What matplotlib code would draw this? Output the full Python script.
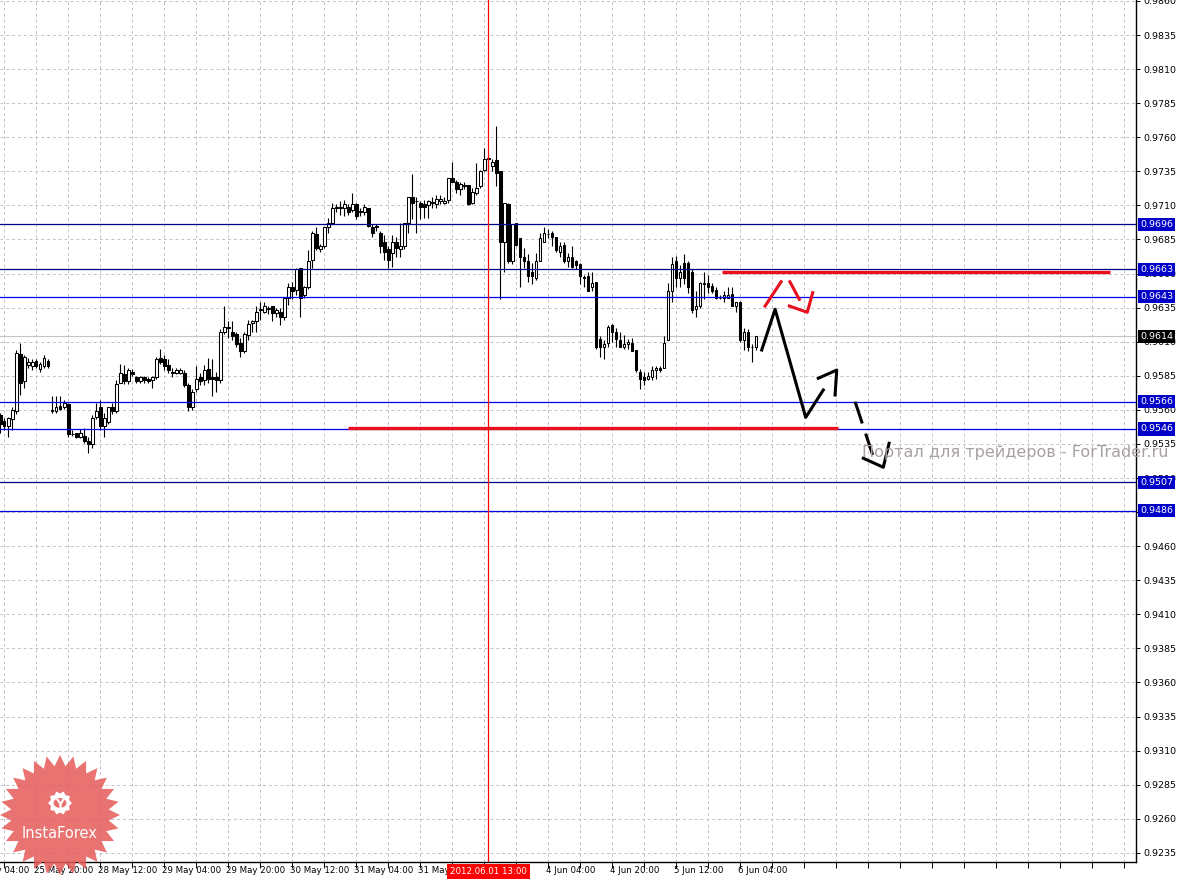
import matplotlib
matplotlib.use("Agg")
from matplotlib import pyplot as plt
from matplotlib.transforms import blended_transform_factory
from matplotlib.patches import Polygon, Circle
import numpy as np

# H1 bars, index 0 = 25 May 11:00 (weekend gaps removed)
opens = [0.9556, 0.9552, 0.9548, 0.9553, 0.9559, 0.9601, 0.9581, 0.9593, 0.9592, 0.9596,
         0.9590, 0.9592, 0.9596, 0.9559, 0.9559, 0.9563, 0.9562, 0.9564, 0.9542, 0.9543,
         0.9540, 0.9541, 0.9537, 0.9535, 0.9555, 0.9562, 0.9548, 0.9551, 0.9562, 0.9559,
         0.9580, 0.9586, 0.9581, 0.9588, 0.9584, 0.9581, 0.9584, 0.9583, 0.9582, 0.9584,
         0.9598, 0.9597, 0.9593, 0.9587, 0.9587, 0.9587, 0.9587, 0.9578, 0.9562, 0.9575,
         0.9584, 0.9582, 0.9590, 0.9584, 0.9584, 0.9582, 0.9617, 0.9621, 0.9617, 0.9616,
         0.9609, 0.9603, 0.9615, 0.9624, 0.9625, 0.9633, 0.9632, 0.9634, 0.9636, 0.9631,
         0.9632, 0.9628, 0.9642, 0.9650, 0.9648, 0.9664, 0.9644, 0.9650, 0.9670, 0.9689,
         0.9678, 0.9680, 0.9694, 0.9697, 0.9708, 0.9708, 0.9708, 0.9709, 0.9707, 0.9711,
         0.9705, 0.9705, 0.9708, 0.9694, 0.9695, 0.9690, 0.9683, 0.9678, 0.9675, 0.9683,
         0.9678, 0.9680, 0.9697, 0.9716, 0.9713, 0.9712, 0.9711, 0.9710, 0.9712, 0.9711,
         0.9713, 0.9712, 0.9714, 0.9730, 0.9727, 0.9722, 0.9725, 0.9725, 0.9712, 0.9719,
         0.9724, 0.9736, 0.9744, 0.9739, 0.9743, 0.9735, 0.9683, 0.9711, 0.9669, 0.9697,
         0.9686, 0.9672, 0.9669, 0.9661, 0.9657, 0.9669, 0.9683, 0.9689, 0.9690, 0.9687,
         0.9676, 0.9681, 0.9669, 0.9672, 0.9669, 0.9667, 0.9657, 0.9658, 0.9650, 0.9654,
         0.9612, 0.9606, 0.9609, 0.9622, 0.9617, 0.9611, 0.9606, 0.9608, 0.9609, 0.9604,
         0.9588, 0.9584, 0.9583, 0.9584, 0.9589, 0.9591, 0.9591, 0.9611, 0.9647, 0.9669,
         0.9657, 0.9668, 0.9668, 0.9661, 0.9634, 0.9636, 0.9653, 0.9653, 0.9651, 0.9648,
         0.9642, 0.9642, 0.9642, 0.9645, 0.9636, 0.9639, 0.9611, 0.9617, 0.9606, 0.9606]
highs = [0.9558, 0.9554, 0.9555, 0.9562, 0.9604, 0.9609, 0.9600, 0.9598, 0.9597, 0.9597,
         0.9595, 0.9600, 0.9597, 0.9570, 0.9570, 0.9570, 0.9567, 0.9565, 0.9545, 0.9543,
         0.9546, 0.9547, 0.9540, 0.9556, 0.9565, 0.9567, 0.9558, 0.9562, 0.9565, 0.9582,
         0.9594, 0.9593, 0.9591, 0.9590, 0.9585, 0.9585, 0.9585, 0.9584, 0.9585, 0.9599,
         0.9605, 0.9600, 0.9597, 0.9591, 0.9591, 0.9591, 0.9589, 0.9580, 0.9575, 0.9592,
         0.9587, 0.9593, 0.9598, 0.9597, 0.9588, 0.9619, 0.9636, 0.9625, 0.9625, 0.9617,
         0.9613, 0.9617, 0.9626, 0.9626, 0.9636, 0.9639, 0.9639, 0.9636, 0.9636, 0.9635,
         0.9635, 0.9643, 0.9653, 0.9654, 0.9664, 0.9664, 0.9651, 0.9677, 0.9691, 0.9694,
         0.9682, 0.9694, 0.9701, 0.9712, 0.9711, 0.9713, 0.9714, 0.9711, 0.9719, 0.9712,
         0.9708, 0.9711, 0.9708, 0.9696, 0.9696, 0.9691, 0.9688, 0.9680, 0.9688, 0.9687,
         0.9697, 0.9697, 0.9716, 0.9733, 0.9716, 0.9713, 0.9714, 0.9714, 0.9716, 0.9718,
         0.9718, 0.9716, 0.9730, 0.9742, 0.9729, 0.9727, 0.9727, 0.9725, 0.9723, 0.9741,
         0.9736, 0.9752, 0.9747, 0.9744, 0.9768, 0.9735, 0.9712, 0.9712, 0.9696, 0.9697,
         0.9686, 0.9679, 0.9674, 0.9668, 0.9675, 0.9690, 0.9694, 0.9693, 0.9691, 0.9687,
         0.9683, 0.9683, 0.9675, 0.9680, 0.9670, 0.9668, 0.9659, 0.9661, 0.9661, 0.9654,
         0.9614, 0.9611, 0.9622, 0.9623, 0.9620, 0.9617, 0.9615, 0.9612, 0.9613, 0.9604,
         0.9590, 0.9588, 0.9588, 0.9592, 0.9592, 0.9592, 0.9614, 0.9653, 0.9672, 0.9673,
         0.9666, 0.9674, 0.9669, 0.9663, 0.9647, 0.9654, 0.9661, 0.9659, 0.9653, 0.9650,
         0.9644, 0.9647, 0.9650, 0.9650, 0.9639, 0.9640, 0.9620, 0.9619, 0.9608, 0.9614]
lows = [0.9543, 0.9545, 0.9540, 0.9545, 0.9557, 0.9571, 0.9576, 0.9591, 0.9589, 0.9591,
        0.9588, 0.9591, 0.9591, 0.9558, 0.9558, 0.9560, 0.9561, 0.9540, 0.9541, 0.9539,
        0.9539, 0.9536, 0.9528, 0.9532, 0.9553, 0.9545, 0.9540, 0.9550, 0.9557, 0.9558,
        0.9580, 0.9579, 0.9579, 0.9585, 0.9580, 0.9580, 0.9580, 0.9580, 0.9576, 0.9583,
        0.9594, 0.9589, 0.9587, 0.9584, 0.9586, 0.9586, 0.9577, 0.9559, 0.9560, 0.9573,
        0.9578, 0.9578, 0.9580, 0.9570, 0.9573, 0.9580, 0.9616, 0.9613, 0.9611, 0.9606,
        0.9599, 0.9602, 0.9611, 0.9617, 0.9617, 0.9626, 0.9631, 0.9630, 0.9625, 0.9628,
        0.9622, 0.9626, 0.9637, 0.9641, 0.9644, 0.9628, 0.9642, 0.9649, 0.9664, 0.9677,
        0.9676, 0.9679, 0.9690, 0.9696, 0.9705, 0.9703, 0.9702, 0.9703, 0.9705, 0.9700,
        0.9702, 0.9703, 0.9694, 0.9687, 0.9691, 0.9675, 0.9670, 0.9664, 0.9665, 0.9672,
        0.9672, 0.9678, 0.9690, 0.9700, 0.9690, 0.9700, 0.9701, 0.9701, 0.9708, 0.9708,
        0.9711, 0.9711, 0.9712, 0.9727, 0.9719, 0.9718, 0.9722, 0.9710, 0.9711, 0.9718,
        0.9723, 0.9735, 0.9733, 0.9735, 0.9724, 0.9641, 0.9661, 0.9668, 0.9667, 0.9680,
        0.9650, 0.9664, 0.9654, 0.9652, 0.9655, 0.9669, 0.9683, 0.9686, 0.9680, 0.9676,
        0.9672, 0.9668, 0.9665, 0.9664, 0.9663, 0.9652, 0.9650, 0.9647, 0.9647, 0.9605,
        0.9599, 0.9597, 0.9606, 0.9610, 0.9606, 0.9606, 0.9605, 0.9605, 0.9603, 0.9588,
        0.9575, 0.9578, 0.9582, 0.9582, 0.9583, 0.9588, 0.9591, 0.9611, 0.9639, 0.9650,
        0.9650, 0.9652, 0.9646, 0.9631, 0.9628, 0.9635, 0.9641, 0.9646, 0.9646, 0.9641,
        0.9641, 0.9639, 0.9642, 0.9636, 0.9632, 0.9610, 0.9604, 0.9603, 0.9595, 0.9604]
closes = [0.9550, 0.9548, 0.9554, 0.9560, 0.9602, 0.9580, 0.9599, 0.9595, 0.9595, 0.9592,
          0.9594, 0.9598, 0.9592, 0.9560, 0.9562, 0.9561, 0.9565, 0.9542, 0.9542, 0.9540,
          0.9543, 0.9537, 0.9535, 0.9554, 0.9559, 0.9548, 0.9554, 0.9562, 0.9559, 0.9579,
          0.9587, 0.9581, 0.9589, 0.9586, 0.9581, 0.9584, 0.9582, 0.9581, 0.9584, 0.9597,
          0.9595, 0.9592, 0.9589, 0.9588, 0.9589, 0.9589, 0.9578, 0.9562, 0.9573, 0.9583,
          0.9581, 0.9589, 0.9583, 0.9583, 0.9582, 0.9617, 0.9621, 0.9620, 0.9614, 0.9608,
          0.9603, 0.9616, 0.9623, 0.9625, 0.9632, 0.9634, 0.9636, 0.9635, 0.9631, 0.9633,
          0.9628, 0.9642, 0.9650, 0.9647, 0.9663, 0.9642, 0.9650, 0.9669, 0.9690, 0.9679,
          0.9680, 0.9694, 0.9697, 0.9708, 0.9709, 0.9709, 0.9711, 0.9705, 0.9711, 0.9702,
          0.9706, 0.9709, 0.9695, 0.9690, 0.9694, 0.9680, 0.9676, 0.9670, 0.9683, 0.9679,
          0.9680, 0.9697, 0.9716, 0.9712, 0.9713, 0.9709, 0.9709, 0.9713, 0.9712, 0.9715,
          0.9715, 0.9713, 0.9730, 0.9727, 0.9722, 0.9726, 0.9724, 0.9711, 0.9720, 0.9723,
          0.9735, 0.9744, 0.9745, 0.9742, 0.9734, 0.9683, 0.9712, 0.9669, 0.9696, 0.9681,
          0.9672, 0.9669, 0.9658, 0.9658, 0.9669, 0.9686, 0.9690, 0.9689, 0.9687, 0.9677,
          0.9680, 0.9669, 0.9672, 0.9665, 0.9666, 0.9658, 0.9657, 0.9647, 0.9653, 0.9606,
          0.9606, 0.9608, 0.9621, 0.9617, 0.9612, 0.9606, 0.9608, 0.9610, 0.9603, 0.9589,
          0.9583, 0.9582, 0.9585, 0.9589, 0.9591, 0.9589, 0.9609, 0.9647, 0.9667, 0.9657,
          0.9661, 0.9657, 0.9650, 0.9633, 0.9636, 0.9653, 0.9652, 0.9650, 0.9647, 0.9642,
          0.9642, 0.9644, 0.9644, 0.9636, 0.9639, 0.9611, 0.9617, 0.9606, 0.9606, 0.9614]

# time axis labels (bar index, text)
date_idx = [-7, 9, 25, 41, 57, 73, 89, 105, 137, 153, 169, 185]
date_txt = ["25 May 04:00", "25 May 20:00", "28 May 12:00", "29 May 04:00", "29 May 20:00",
            "30 May 12:00", "31 May 04:00", "31 May 20:00", "4 Jun 04:00", "4 Jun 20:00",
            "5 Jun 12:00", "6 Jun 04:00"]
cross_idx = 122
cross_txt = "2012.06.01 13:00"

# horizontal levels
levels = [0.9696, 0.9663, 0.9643, 0.9566, 0.9546, 0.9507, 0.9486]
level_colors = ["#000088", "#000088", "#0000e6", "#0000e6", "#0000e6", "#000088", "#0000e6"]
bid = 0.9614

# red support / resistance segments: (x0, x1, price)
red_lines = [(180.4, 277.4, 0.9661), (86.9, 209.4, 0.9547)]

# forecast path drawings (bar index, price)
path_x = [190.35, 193.7, 201.35, 205.75]
path_y = [0.96039, 0.96338, 0.95545, 0.95746]
head_x = [204.5, 209.1, 208.7]
head_y = [0.95832, 0.95892, 0.95709]
dash_x = [213.7, 218.1]
dash_y = [0.95660, 0.95269]
dhead_x = [215.75, 220.75, 222.2]
dhead_y = [0.95245, 0.95179, 0.95355]
red_a_x = [191.2, 195.2]
red_a_y = [0.96362, 0.96540]
red_b_x = [197.4, 199.75]
red_b_y = [0.96540, 0.96411]
red_head_x = [197.25, 201.75, 203.1]
red_head_y = [0.96362, 0.96316, 0.96460]

W, H = 1179, 880
fig = plt.figure(figsize=(W / 100, H / 100), dpi=100)
fig.patch.set_facecolor("white")
ax = fig.add_axes([0, 18 / H, 1136 / W, 862 / H])
ax.set_facecolor("white")
ax.set_xlim(-0.075, 283.925)
ax.set_ylim(0.92283, 0.98607)

# grid
price_ticks = np.round(np.arange(0.9235, 0.9861, 0.0025), 4)
grid_idx = np.arange(1, 284, 8)
ax.set_yticks(price_ticks)
ax.set_xticks(grid_idx)
ax.set_xticklabels([])
ax.yaxis.tick_right()
ax.set_yticklabels(["%.4f" % p for p in price_ticks], fontsize=6.8)
ax.tick_params(axis="y", length=3, width=0.7, pad=2, colors="black")
ax.tick_params(axis="x", length=4, width=0.7, direction="out", colors="black")
ax.grid(True, color="#c6bccb", linestyle=(0, (3, 3)), linewidth=0.7, zorder=0)
ax.set_axisbelow(True)
for s in ["left", "top"]:
    ax.spines[s].set_visible(False)
for s in ["right", "bottom"]:
    ax.spines[s].set_linewidth(1.0)

# candles
idx = np.arange(len(closes))
o = np.array(opens); c = np.array(closes)
ax.vlines(idx, lows, highs, color="black", lw=0.8, zorder=2)
bull = c >= o
bottom = np.minimum(o, c)
height = np.maximum(np.abs(c - o), 0.00002)
ax.bar(idx[bull], height[bull], bottom=bottom[bull], width=0.6,
       facecolor="white", edgecolor="black", linewidth=0.75, zorder=3)
ax.bar(idx[~bull], height[~bull], bottom=bottom[~bull], width=0.6,
       facecolor="black", edgecolor="black", linewidth=0.75, zorder=3)

# levels and lines
ax.axhline(bid, color="#c4c4c4", lw=0.8, zorder=1)
for lv, col in zip(levels, level_colors):
    ax.axhline(lv, color=col, lw=0.9, zorder=4)
for x0, x1, p in red_lines:
    ax.plot([x0, x1], [p, p], color="#e8101c", lw=2.4, solid_capstyle="butt", zorder=5)
ax.axvline(cross_idx, color="#ff0000", lw=0.9, zorder=5)

# forecast drawings
ax.plot(path_x, path_y, color="black", lw=2.2, zorder=6)
ax.plot(head_x, head_y, color="black", lw=2.2, zorder=6)
ax.plot(dash_x, dash_y, color="black", lw=2.2, dashes=(7.5, 3.5), zorder=6)
ax.plot(dhead_x, dhead_y, color="black", lw=2.2, zorder=6)
for xs, ys in [(red_a_x, red_a_y), (red_b_x, red_b_y), (red_head_x, red_head_y)]:
    ax.plot(xs, ys, color="#e8101c", lw=2.2, zorder=6)

# price labels on the right
ytr = ax.get_yaxis_transform()
for lv, col in zip(levels, level_colors):
    ax.text(1.0035, lv, "%.4f" % lv, transform=ytr, fontsize=6.8, color="white",
            va="center", ha="left", clip_on=False, zorder=10,
            bbox=dict(boxstyle="square,pad=0.22", fc="#0000c8", ec="none"))
ax.text(1.0035, bid, "%.4f" % bid, transform=ytr, fontsize=6.8, color="white",
        va="center", ha="left", clip_on=False, zorder=10,
        bbox=dict(boxstyle="square,pad=0.22", fc="black", ec="none"))

# date labels
xtr = blended_transform_factory(ax.transData, ax.transAxes)
for i, t in zip(date_idx, date_txt):
    ax.text(i - 0.6, -0.0095, t, transform=xtr, fontsize=6.2, ha="left", va="center",
            clip_on=False)
ax.text(cross_idx, -0.0105, cross_txt, transform=xtr, fontsize=6.2, color="white",
        ha="center", va="center", clip_on=False, zorder=10,
        bbox=dict(boxstyle="square,pad=0.35", fc="#ff0000", ec="none"))

# watermark
fig.text(862 / W, 1 - 452 / H, "Портал для трейдеров - ForTrader.ru", fontsize=11.5,
         color="#a8a0a0", ha="left", va="center", zorder=20)

# InstaForex badge
cx, cy = 60, 815
n = 28
ang = np.linspace(0, 2 * np.pi, 2 * n, endpoint=False) + np.pi / 2
rad = np.where(np.arange(2 * n) % 2 == 0, 60, 49)
pts = np.column_stack([cx + rad * np.cos(ang), H - (cy + rad * np.sin(ang))])
star = Polygon(pts / [W, H], closed=True, transform=fig.transFigure,
               fc="#e55a58", ec="none", alpha=0.85, zorder=30)
fig.add_artist(star)
gang = np.linspace(0, 2 * np.pi, 20, endpoint=False)
grad = np.where(np.arange(20) % 2 == 0, 12, 9.5)
gpts = np.column_stack([cx + grad * np.cos(gang), H - (803 + grad * np.sin(gang))])
fig.add_artist(Polygon(gpts / [W, H], closed=True, transform=fig.transFigure,
                       fc="white", ec="none", zorder=31))
fig.add_artist(Circle((cx / W, (H - 803) / H), 6.5 / W, transform=fig.transFigure,
                      fc="#e8706e", ec="none", zorder=32))
fig.text(cx / W, (H - 804) / H, "Y", fontsize=9, fontweight="bold", color="white",
         ha="center", va="center", zorder=33)
fig.text(cx / W, (H - 833) / H, "InstaForex", fontsize=10.5, color="white",
         ha="center", va="center", zorder=33)

fig.savefig("out.png", dpi=100, facecolor="white")
